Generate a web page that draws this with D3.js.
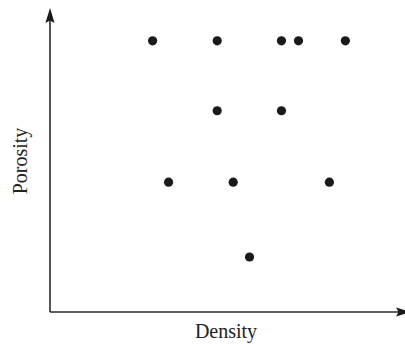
<!DOCTYPE html>
<html>
<head>
<meta charset="utf-8">
<script src="https://cdn.jsdelivr.net/npm/d3@7"></script>
<style>
html,body{margin:0;padding:0;background:#fff;}
svg{display:block;}
</style>
</head>
<body>
<svg id="chart" width="405" height="344"></svg>
<script>
// Data (arbitrary units)
const density  = [28.9, 47.1, 65.2, 70.0, 83.2, 47.1, 65.2, 33.4, 51.6, 78.7, 56.2];
const porosity = [89.2, 89.2, 89.2, 89.2, 89.2, 66.2, 66.2, 42.7, 42.7, 42.7, 18.1];
const xLabel = "Density";
const yLabel = "Porosity";

const svg = d3.select("#chart");
const x = d3.scaleLinear().domain([0, 100]).range([50, 405]);
const y = d3.scaleLinear().domain([0, 100]).range([312, 8]);

const axisColor = "#2a2a2a";

// y axis line
svg.append("line")
  .attr("x1", x(0)).attr("y1", y(0))
  .attr("x2", x(0)).attr("y2", y(100) + 10)
  .attr("stroke", axisColor).attr("stroke-width", 1.6);
// x axis line
svg.append("line")
  .attr("x1", x(0)).attr("y1", y(0))
  .attr("x2", x(100)).attr("y2", y(0))
  .attr("stroke", axisColor).attr("stroke-width", 1.6);

// arrowheads
const yTipX = x(0), yTipY = y(100);
svg.append("path")
  .attr("d", `M${yTipX},${yTipY} L${yTipX+4.6},${yTipY+15} L${yTipX},${yTipY+12.5} L${yTipX-4.6},${yTipY+15} Z`)
  .attr("fill", "#1a1a1a");
const xTipX = x(100) + 6, xTipY = y(0);
svg.append("path")
  .attr("d", `M${xTipX},${xTipY} L${xTipX-15},${xTipY-4.6} L${xTipX-12.5},${xTipY} L${xTipX-15},${xTipY+4.6} Z`)
  .attr("fill", "#1a1a1a");

// points
svg.selectAll("circle.pt")
  .data(density.map((d, i) => ({d, p: porosity[i]})))
  .enter().append("circle")
  .attr("class", "pt")
  .attr("cx", d => x(d.d))
  .attr("cy", d => y(d.p))
  .attr("r", 4.6)
  .attr("fill", "#1a1a1a");

// labels
svg.append("text")
  .attr("x", 226).attr("y", 338)
  .attr("text-anchor", "middle")
  .attr("font-family", "'Liberation Serif', 'Times New Roman', serif")
  .attr("font-size", 20)
  .attr("fill", "#222")
  .text(xLabel);

svg.append("text")
  .attr("transform", "translate(27,161) rotate(-90)")
  .attr("text-anchor", "middle")
  .attr("font-family", "'Liberation Serif', 'Times New Roman', serif")
  .attr("font-size", 20)
  .attr("fill", "#222")
  .text(yLabel);
</script>
</body>
</html>
